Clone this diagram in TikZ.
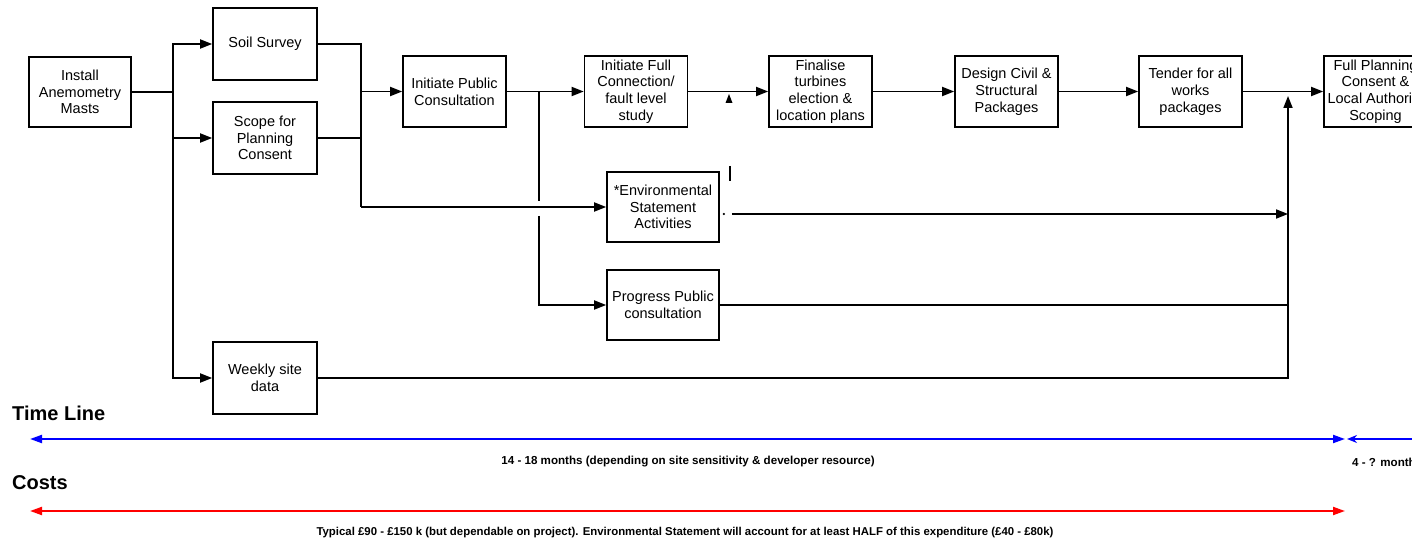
\documentclass[tikz,border=0pt]{standalone}
\usepackage{fontspec}
\setmainfont{Liberation Sans}
\usetikzlibrary{arrows.meta,positioning,calc}

\begin{document}
\begin{tikzpicture}[
    x=1pt, y=-1pt,
    box/.style={rectangle, draw, line width=1.7pt, minimum width=103pt, minimum height=71pt, inner sep=1pt, align=center, font=\fontsize{14.5}{16.8}\selectfont},
    widebox/.style={box, minimum width=112pt, minimum height=70pt},
    link/.style={line width=1.8pt},
    arr/.style={link, -{Triangle[length=12pt, width=9pt]}},
    span/.style={line width=2pt, {Triangle[length=12pt, width=8pt]}-{Triangle[length=12pt, width=8pt]}},
    heading/.style={anchor=west, inner sep=0pt, font=\fontsize{20}{24}\selectfont\bfseries},
    note/.style={inner sep=0pt, font=\fontsize{11.6}{13}\selectfont\bfseries},
]
\useasboundingbox (0,0) rectangle (1412,545);
\clip (0,0) rectangle (1412,545);

% Start and first split
\node[box, minimum width=102pt, minimum height=70pt] (masts) at (80,92) {Install\\Anemometry\\Masts};
\node[box, minimum width=104pt, minimum height=72pt] (soil) at (265,44) {Soil Survey};
\node[box, minimum width=104pt, minimum height=72pt] (scope) at (265,138) {Scope for\\Planning\\Consent};
\node[box, minimum width=104pt, minimum height=72pt] (weekly) at (265,378) {Weekly site\\data};

% Main row
\node[box] (pubcons) at (454.5,91.5) {Initiate Public\\Consultation};
\node[box] (connect) at (636,91.5) {Initiate Full\\Connection/\\fault level\\study};
\node[box] (turbines) at (820.5,91.5) {Finalise\\turbines\\election \&\\location plans};
\node[box] (design) at (1006.5,91.5) {Design Civil \&\\Structural\\Packages};
\node[box] (tender) at (1190.5,91.5) {Tender for all\\works\\packages};
\node[box] (planning) at (1375.5,91.5) {Full Planning\\Consent \&\\Local Authority\\Scoping};

% Parallel activities
\node[widebox] (envstat) at (663,207) {*Environmental\\Statement\\Activities};
\node[widebox] (progress) at (663,305) {Progress Public\\consultation};

% Junctions
\coordinate (fork1) at (173,92);
\coordinate (join1) at (361,91.5);
\coordinate (join2) at (361,207);
\coordinate (fork2) at (539,91.5);
\coordinate (gaptop) at (539,201);
\coordinate (gapbot) at (539,216);
\coordinate (merge) at (1288,96);
\coordinate (envout) at ([yshift=-7pt]envstat.east);

% Arrows from the masts
\draw[link] (masts.east) -- (fork1);
\draw[arr] (fork1) |- (soil.west);
\draw[arr] (fork1) |- (scope.west);
\draw[arr] (fork1) |- (weekly.west);

% Into consultation and environmental statement
\draw[link] (soil.east) -| (join2);
\draw[link] (scope.east) -- (scope.east -| join2);
\draw[arr] (join1) -- (pubcons.west);
\draw[arr] (join2) -- (envstat.west);

% Main sequence
\draw[arr] (pubcons.east) -- (connect.west);
\draw[arr] (connect.east) -- (turbines.west);
\draw[arr] (turbines.east) -- (design.west);
\draw[arr] (design.east) -- (tender.west);
\draw[arr] (tender.east) -- (planning.west);

% Branch to public consultation, broken where it crosses
\draw[link] (fork2) -- (gaptop);
\draw[arr] (gapbot) |- (progress.west);

% Merging back before planning
\draw[arr] ([xshift=12pt]envout) -- (envout -| merge);
\draw[link] (progress.east) -- (progress.east -| merge);
\draw[arr] (weekly.east) -| (merge);

% stray marks
\fill (729,94) -- (725.5,103) -- (732.5,103) -- cycle;
\draw[line width=2pt] (730,166) -- (730,181);
\fill ([xshift=4pt]envout) circle (1.2);

% Time line
\node[heading] (tlhead) at (12,413) {Time Line};
\coordinate (tlstart) at (30,439);
\coordinate (tlend) at (1345,439);
\coordinate (tlnext) at (1347,439);
\draw[span, blue] (tlstart) -- (tlend);
\draw[line width=2pt, blue, {Stealth[length=10pt, width=8pt]}-] (tlnext) -- (1420,439);
\node[note] (tltext) at (688,462) {14 - 18 months (depending on site sensitivity \& developer resource)};
\node[note, anchor=west] (tlnote) at (1352,462) {4 - ? months};

% Costs
\node[heading] (costhead) at (12,483) {Costs};
\coordinate (coststart) at (30,511);
\coordinate (costend) at (1345,511);
\draw[span, red] (coststart) -- (costend);
\node[note, font=\fontsize{11.4}{13}\selectfont\bfseries] (costtext) at (685,533) {Typical £90 - £150 k (but dependable on project). Environmental Statement will account for at least HALF of this expenditure (£40 - £80k)};

\end{tikzpicture}
\end{document}
